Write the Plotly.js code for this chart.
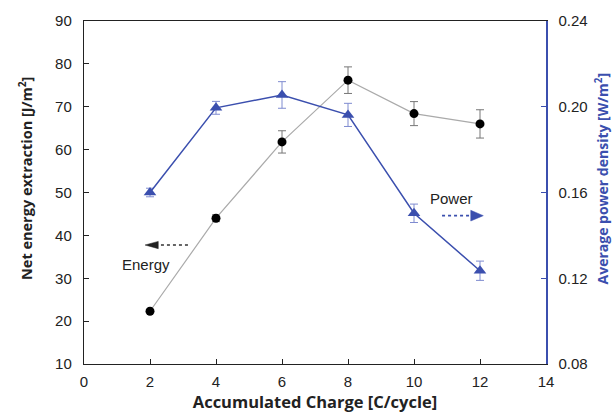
<!DOCTYPE html>
<html><head><meta charset="utf-8">
<script src="https://cdn.plot.ly/plotly-3.0.1.min.js"></script>
<style>body{margin:0;background:#fff}#c{width:614px;height:418px}</style>
</head><body><div id="c"></div>
<script>
const charge = [2, 4, 6, 8, 10, 12];
const energy = [22.3, 44.0, 61.8, 76.2, 68.4, 66.0];
const energyErr = [0.3, 0.8, 2.6, 3.1, 2.8, 3.3];
const power = [0.160, 0.1995, 0.2055, 0.1962, 0.1503, 0.1235];
const powerErr = [0.002, 0.003, 0.0062, 0.0054, 0.0043, 0.0045];
const xTicks = [0, 2, 4, 6, 8, 10, 12, 14];
const leftTicks = [10, 20, 30, 40, 50, 60, 70, 80, 90];
const rightTicks = [0.08, 0.12, 0.16, 0.20, 0.24];
const rightTickText = ['0.08', '0.12', '0.16', '0.20', '0.24'];

const blue = '#3b4fae';
const tickFont = {family: 'Liberation Sans, Arial, sans-serif', size: 15, color: '#222'};
const titleFamily = 'Open Sans, sans-serif';

const traces = [
  {x: charge, y: energy, type: 'scatter', mode: 'lines+markers', name: 'Energy',
   line: {color: '#aaaaaa', width: 1.2},
   marker: {color: '#000', size: 9, symbol: 'circle'},
   error_y: {type: 'data', array: energyErr, visible: true, color: '#777', thickness: 1, width: 4}},
  {x: charge, y: power, type: 'scatter', mode: 'lines+markers', name: 'Power', yaxis: 'y2',
   line: {color: blue, width: 1.5},
   marker: {color: blue, size: 11, symbol: 'triangle-up'},
   error_y: {type: 'data', array: powerErr, visible: true, color: '#7f8bd0', thickness: 1, width: 4}}
];

const layout = {
  width: 614, height: 418,
  margin: {l: 84, r: 68, t: 21, b: 54},
  paper_bgcolor: '#fff', plot_bgcolor: '#fff',
  showlegend: false,
  xaxis: {range: [0, 14], tickvals: xTicks, ticks: 'inside', ticklen: 5, tickcolor: '#222',
    showline: true, linecolor: '#222', linewidth: 1.2, mirror: true, showgrid: false, zeroline: false,
    tickfont: tickFont, ticklabelstandoff: 4,
    title: {text: 'Accumulated Charge [C/cycle]', font: {family: titleFamily, size: 16.5, color: '#222', weight: 'bold'}, standoff: 7}},
  yaxis: {range: [10, 90], tickvals: leftTicks, ticks: 'inside', ticklen: 5, tickcolor: '#222',
    showline: true, linecolor: '#222', linewidth: 1.2, showgrid: false, zeroline: false,
    tickfont: tickFont, ticklabelstandoff: 8},
  yaxis2: {range: [0.08, 0.24], tickvals: rightTicks, ticktext: rightTickText, overlaying: 'y', side: 'right',
    ticks: 'inside', ticklen: 5, tickcolor: blue,
    showline: true, linecolor: blue, linewidth: 1.5, showgrid: false, zeroline: false,
    tickfont: tickFont, ticklabelstandoff: 8},
  shapes: [
    {type: 'line', xref: 'x', yref: 'y', x0: 3.15, x1: 2.2, y0: 37.75, y1: 37.75, line: {color: '#333', width: 1.5, dash: 'dot'}},
    {type: 'path', xref: 'x', yref: 'y', path: 'M 1.85 37.75 L 2.25 38.6 L 2.25 36.9 Z', fillcolor: '#222', line: {color: '#222', width: 0.5}},
    {type: 'line', xref: 'x', yref: 'y2', x0: 10.85, x1: 11.75, y0: 0.1492, y1: 0.1492, line: {color: blue, width: 1.8, dash: 'dot'}},
    {type: 'path', xref: 'x', yref: 'y2', path: 'M 12.1 0.1492 L 11.72 0.1517 L 11.72 0.1467 Z', fillcolor: blue, line: {color: blue, width: 0.5}}
  ],
  annotations: [
    {x: 1.87, y: 33.1, xref: 'x', yref: 'y', text: 'Energy', showarrow: false, font: {family: 'Liberation Sans, Arial, sans-serif', size: 15, color: '#222'}},
    {x: 11.15, y: 0.1574, xref: 'x', yref: 'y2', text: 'Power', showarrow: false, font: {family: 'Liberation Sans, Arial, sans-serif', size: 15, color: '#222'}},
    {x: -0.128, y: 0.542, xref: 'paper', yref: 'paper', xanchor: 'center', yanchor: 'middle', textangle: -90, showarrow: false,
     text: 'Net energy extraction [J/m<sup>2</sup>]', font: {family: titleFamily, size: 14.5, color: '#222', weight: 'bold'}},
    {x: 1.122, y: 0.542, xref: 'paper', yref: 'paper', xanchor: 'center', yanchor: 'middle', textangle: -90, showarrow: false,
     text: 'Average power density [W/m<sup>2</sup>]', font: {family: titleFamily, size: 14, color: blue, weight: 'bold'}}
  ]
};

Plotly.newPlot('c', traces, layout, {displayModeBar: false, staticPlot: true});
</script></body></html>
